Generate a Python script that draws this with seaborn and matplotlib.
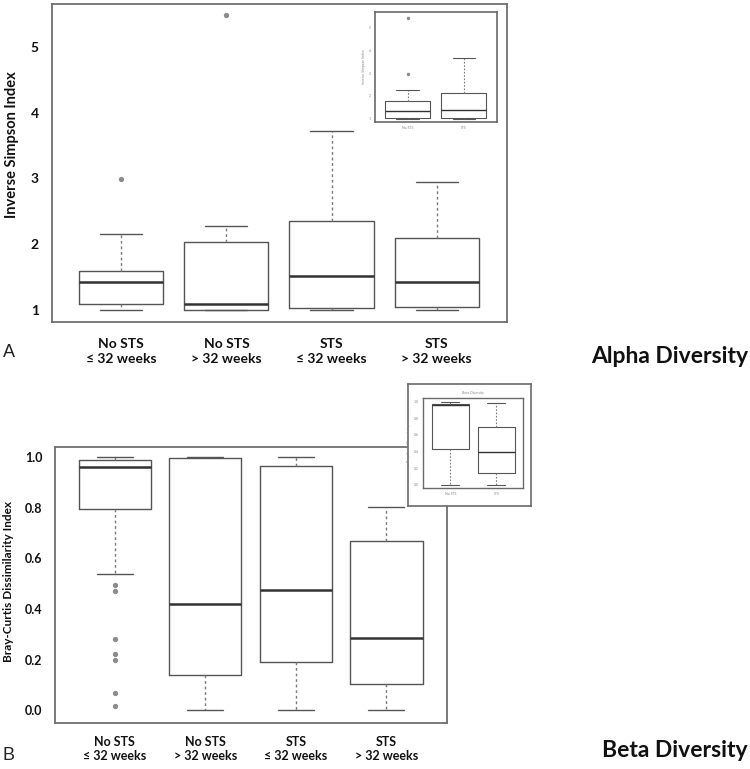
import matplotlib
matplotlib.use("Agg")
import matplotlib.pyplot as plt
import pandas as pd
import seaborn as sns

W, H = 750, 769

groups = ["No STS\n≤ 32 weeks", "No STS\n> 32 weeks", "STS\n≤ 32 weeks", "STS\n> 32 weeks"]
inset_groups = ["No STS", "STS"]

alpha_nosts_early = [1.00, 1.05, 1.10, 1.28, 1.42, 1.50, 1.59, 2.15, 2.99]
alpha_nosts_late = [1.00, 1.00, 1.00, 1.04, 1.10, 1.65, 2.03, 2.28, 5.48]
alpha_sts_early = [1.00, 1.02, 1.04, 1.25, 1.52, 1.90, 2.35, 2.80, 3.72]
alpha_sts_late = [1.00, 1.02, 1.05, 1.20, 1.42, 1.75, 2.10, 2.45, 2.95]

# panel A inset - No STS vs STS
alpha_inset_nosts = [1.00, 1.00, 1.00, 1.01, 1.10, 1.20, 1.32, 1.45, 1.60, 1.78, 2.28, 2.96, 5.44]
alpha_inset_sts = [1.00, 1.00, 1.01, 1.20, 1.40, 1.75, 2.13, 2.60, 3.69]

# panel B - bray-curtis dissimilarity per group
beta_nosts_early = [0.016, 0.068, 0.200, 0.224, 0.283, 0.470, 0.496, 0.540, 0.794,
                    0.830, 0.860, 0.885, 0.905, 0.920, 0.935, 0.950, 0.960,
                    0.965, 0.970, 0.974, 0.977, 0.980, 0.983, 0.985, 0.987,
                    0.989, 0.991, 0.993, 0.995, 0.997, 0.998, 0.999, 1.000]
beta_nosts_late = [0.000, 0.060, 0.138, 0.280, 0.418, 0.800, 0.997, 0.999, 1.000]
beta_sts_early = [0.000, 0.090, 0.190, 0.330, 0.476, 0.750, 0.964, 0.985, 1.000]
beta_sts_late = [0.000, 0.050, 0.105, 0.200, 0.286, 0.480, 0.668, 0.740, 0.805]

# panel B inset
beta_inset_nosts = [0.000, 0.200, 0.430, 0.700, 0.960, 0.965, 0.970, 0.990, 1.000]
beta_inset_sts = [0.000, 0.060, 0.140, 0.260, 0.400, 0.560, 0.700, 0.850, 0.990]

alpha_ticks = [1, 2, 3, 4, 5]
beta_ticks = [0.0, 0.2, 0.4, 0.6, 0.8, 1.0]

BOX = "#555555"
WHISK = "#7a7a7a"
MED = "#333333"
FRAME = "#707070"
FONT = ["Lato", "DejaVu Sans"]


def long_df(names, lists):
    rows = []
    for n, vals in zip(names, lists):
        for v in vals:
            rows.append((n, v))
    return pd.DataFrame(rows, columns=["group", "value"])


def rect(l, t, r, b):
    return [l / W, 1 - b / H, (r - l) / W, (b - t) / H]


def boxes(ax, df, order, lw=1.0, med_lw=1.8, ms=2.8, dash=(0, (2, 2))):
    sns.boxplot(data=df, x="group", y="value", order=order, ax=ax, width=0.8,
                fill=False, color=BOX, linewidth=lw, whis=1.5,
                whiskerprops=dict(color=WHISK, linestyle=dash, linewidth=lw),
                capprops=dict(color=BOX, linewidth=lw),
                boxprops=dict(color=BOX, linewidth=lw),
                medianprops=dict(color=MED, linewidth=med_lw),
                flierprops=dict(marker="o", markersize=ms, markerfacecolor="#8c8c8c",
                                markeredgecolor="#8c8c8c", linestyle="none"))
    ax.set_xlabel("")
    ax.set_ylabel("")


def frame(ax, color=FRAME, lw=1.3):
    for s in ax.spines.values():
        s.set_visible(True)
        s.set_color(color)
        s.set_linewidth(lw)


sns.set_theme(style="white")
plt.rcParams["font.family"] = FONT

fig = plt.figure(figsize=(W / 100, H / 100), dpi=100)

# ---------- panel A ----------
axA = fig.add_axes(rect(52, 4, 507, 322))
boxes(axA, long_df(groups, [alpha_nosts_early, alpha_nosts_late, alpha_sts_early, alpha_sts_late]), groups)
axA.set_xlim(-0.66, 3.67)
axA.set_ylim(0.82, 5.65)
axA.set_yticks(alpha_ticks)
axA.set_yticklabels([str(t) for t in alpha_ticks], fontweight="bold", fontsize=10)
axA.set_xticks(range(4))
axA.set_xticklabels(groups, fontweight="bold", fontsize=10, linespacing=1.35)
axA.tick_params(axis="both", direction="out", length=3.5, width=0.8, color=BOX, labelcolor="#111111")
axA.tick_params(axis="y", pad=6)
axA.tick_params(axis="x", pad=8)
frame(axA)
fig.text(12.5 / W, 1 - 145 / H, "Inverse Simpson Index", rotation=90, ha="center", va="center",
         fontsize=10.5, fontweight="bold", color="#111111")

# inset A
axAi = fig.add_axes(rect(375, 12, 497, 122))
axAi.set_facecolor("white")
boxes(axAi, long_df(inset_groups, [alpha_inset_nosts, alpha_inset_sts]), inset_groups,
      lw=0.8, med_lw=1.0, ms=1.5, dash=(0, (1.5, 1.5)))
axAi.set_xlim(-0.58, 1.59)
axAi.set_ylim(0.85, 5.7)
axAi.set_yticks(alpha_ticks)
axAi.set_yticklabels([str(t) for t in alpha_ticks], fontsize=2.5, color="#888888")
axAi.set_xticks(range(2))
axAi.set_xticklabels(inset_groups, fontsize=2.5, color="#888888")
axAi.tick_params(axis="both", direction="out", length=1.5, width=0.5, color="#888888", pad=1.5)
frame(axAi, color="#6a6a6a", lw=1.2)
axAi.set_ylabel("Inverse Simpson Index", fontsize=2.5, color="#888888", labelpad=2)

# ---------- panel B ----------
axB = fig.add_axes(rect(55, 447, 447, 723))
boxes(axB, long_df(groups, [beta_nosts_early, beta_nosts_late, beta_sts_early, beta_sts_late]), groups)
axB.set_xlim(-0.66, 3.67)
axB.set_ylim(-0.05, 1.04)
axB.set_yticks(beta_ticks)
axB.set_yticklabels([f"{t:.1f}" for t in beta_ticks], fontweight="bold", fontsize=9)
axB.set_xticks(range(4))
axB.set_xticklabels(groups, fontweight="bold", fontsize=9, linespacing=1.3)
axB.tick_params(axis="both", direction="out", length=3, width=0.8, color=BOX, labelcolor="#111111")
axB.tick_params(axis="y", pad=6)
axB.tick_params(axis="x", pad=6)
frame(axB)
fig.text(9 / W, 1 - 582 / H, "Bray-Curtis Dissimilarity Index", rotation=90, ha="center", va="center",
         fontsize=8.5, fontweight="bold", color="#111111")

# inset B: outer box + inner plot
axBo = fig.add_axes(rect(408, 384, 531, 506))
axBo.set_facecolor("white")
axBo.set_xticks([])
axBo.set_yticks([])
frame(axBo, color="#6a6a6a", lw=1.2)
axBo.set_zorder(2)

axBi = fig.add_axes(rect(423, 398, 523, 488))
axBi.set_zorder(3)
axBi.set_facecolor("white")
boxes(axBi, long_df(inset_groups, [beta_inset_nosts, beta_inset_sts]), inset_groups,
      lw=0.8, med_lw=1.0, ms=1.5, dash=(0, (1.5, 1.5)))
axBi.set_xlim(-0.59, 1.58)
axBi.set_ylim(-0.036, 1.044)
axBi.set_yticks(beta_ticks)
axBi.set_yticklabels([f"{t:.1f}" for t in beta_ticks], fontsize=2.5, color="#888888")
axBi.set_xticks(range(2))
axBi.set_xticklabels(inset_groups, fontsize=2.5, color="#888888")
axBi.tick_params(axis="both", direction="out", length=1.5, width=0.5, color="#888888", pad=1.5)
frame(axBi, color="#6a6a6a", lw=1.0)
axBi.set_ylabel("Bray-Curtis Dissimilarity", fontsize=2.5, color="#888888", labelpad=2)
axBi.set_title("Beta Diversity", fontsize=2.5, color="#888888", pad=3)

# panel letters and titles
fig.text(3 / W, 1 - 357 / H, "A", fontsize=13, ha="left", va="baseline",
         family=["Liberation Sans", "DejaVu Sans"], color="#222222")
fig.text(3 / W, 1 - 760 / H, "B", fontsize=13, ha="left", va="baseline",
         family=["Liberation Sans", "DejaVu Sans"], color="#222222")
fig.text(748 / W, 1 - 363 / H, "Alpha Diversity", fontsize=16.5, fontweight="bold",
         ha="right", va="baseline", color="#111111")
fig.text(748 / W, 1 - 757 / H, "Beta Diversity", fontsize=16.5, fontweight="bold",
         ha="right", va="baseline", color="#111111")

fig.savefig("out.png", dpi=100)
